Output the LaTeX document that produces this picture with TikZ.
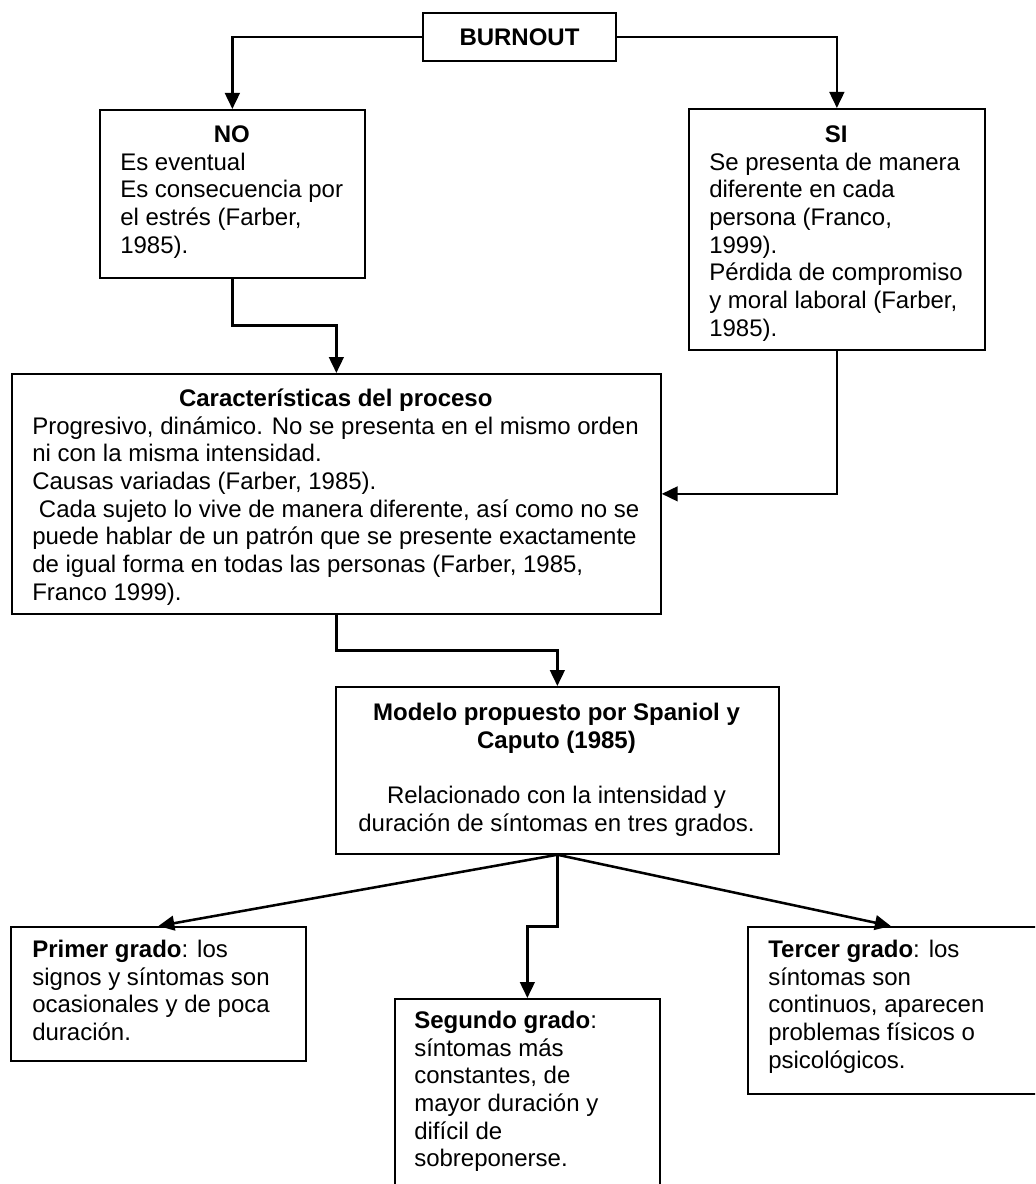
\documentclass[tikz,border=0pt]{standalone}
\usepackage{fontspec}
\setmainfont{Liberation Sans}
\usetikzlibrary{arrows.meta}
\begin{document}
\begin{tikzpicture}[x=0.75pt,y=-0.75pt,
  box/.style={draw=black, line width=1.3pt, inner sep=0pt, anchor=north west},
  txt/.style={anchor=north west, inner sep=0pt, align=left, font=\fontsize{18}{20.8}\selectfont},
  ctxt/.style={anchor=north, inner sep=0pt, align=center, font=\fontsize{18}{20.8}\selectfont},
  link/.style={line width=1.9pt, -{Triangle[length=12pt,width=11pt]}}
]
\useasboundingbox (0,0) rectangle (1035,1184);
\clip (0,0) rectangle (1035,1184);

% top node
\node[draw=black, line width=1.3pt, minimum width=144.75pt, minimum height=36pt,
      inner sep=0pt, font=\fontsize{18}{20.8}\selectfont\bfseries] (burnout) at (519.5,37) {BURNOUT};

% boxes
\node[box, minimum width=198.75pt, minimum height=126pt]   (no)      at (99,109)  {};
\node[box, minimum width=222pt,    minimum height=180.75pt] (si)      at (688,108) {};
\node[box, minimum width=486.75pt, minimum height=180pt]   (char)    at (11,373)  {};
\node[box, minimum width=332.25pt, minimum height=125.25pt] (modelo)  at (335,686) {};
\node[box, minimum width=221.25pt, minimum height=100.5pt] (primer)  at (10,926)  {};
\node[box, minimum width=198.75pt, minimum height=165pt]   (segundo) at (394,998) {};
\node[box, minimum width=217.5pt,  minimum height=125.25pt] (tercer)  at (747,926) {};

% box contents
\node[txt] (noText) at (120,122.6) {\strut\makebox[167.25pt]{\textbf{NO}}\\
  Es eventual\\
  Es consecuencia por\\
  el estrés (Farber,\\
  1985).};

\node[txt] (siText) at (709,122.6) {\strut\makebox[190.5pt]{\textbf{SI}}\\
  Se presenta de manera\\
  diferente en cada\\
  persona (Franco,\\
  1999).\\
  Pérdida de compromiso\\
  y moral laboral (Farber,\\
  1985).};

\node[txt] (charText) at (32,386.6) {\strut\makebox[455.25pt]{\textbf{Características del proceso}}\\
  Progresivo, dinámico. No se presenta en el mismo orden\\
  ni con la misma intensidad.\\
  Causas variadas (Farber, 1985).\\
  \ Cada sujeto lo vive de manera diferente, así como no se\\
  puede hablar de un patrón que se presente exactamente\\
  de igual forma en todas las personas (Farber, 1985,\\
  Franco 1999).};

\node[ctxt] (modeloText) at (556.5,700.6) {\strut\textbf{Modelo propuesto por Spaniol y}\\
  \textbf{Caputo (1985)}\\[20.8pt]
  Relacionado con la intensidad y\\
  duración de síntomas en tres grados.};

\node[txt] (primerText) at (32,937.6) {\strut\textbf{Primer grado}: los\\
  signos y síntomas son\\
  ocasionales y de poca\\
  duración.};

\node[txt] (segundoText) at (414,1008.6) {\strut\textbf{Segundo grado}:\\
  síntomas más\\
  constantes, de\\
  mayor duración y\\
  difícil de\\
  sobreponerse.};

\node[txt] (tercerText) at (768,937.6) {\strut\textbf{Tercer grado}: los\\
  síntomas son\\
  continuos, aparecen\\
  problemas físicos o\\
  psicológicos.};

% connectors
\draw[link] (burnout.west) -| (no.north);
\draw[link] (burnout.east) -| (si.north);
\draw[link] (no.south) -- ++(0,47) -| (char.north);
\draw[link] (si.south) |- (char.east);
\draw[link] (char.south) -- ++(0,36) -| (modelo.north);
\draw[link] (modelo.south) -- (primer.north);
\draw[link] (modelo.south) -- ++(0,72) -| (segundo.north);
\draw[link] (modelo.south) -- ([xshift=-1.5pt]tercer.north);
\end{tikzpicture}
\end{document}
